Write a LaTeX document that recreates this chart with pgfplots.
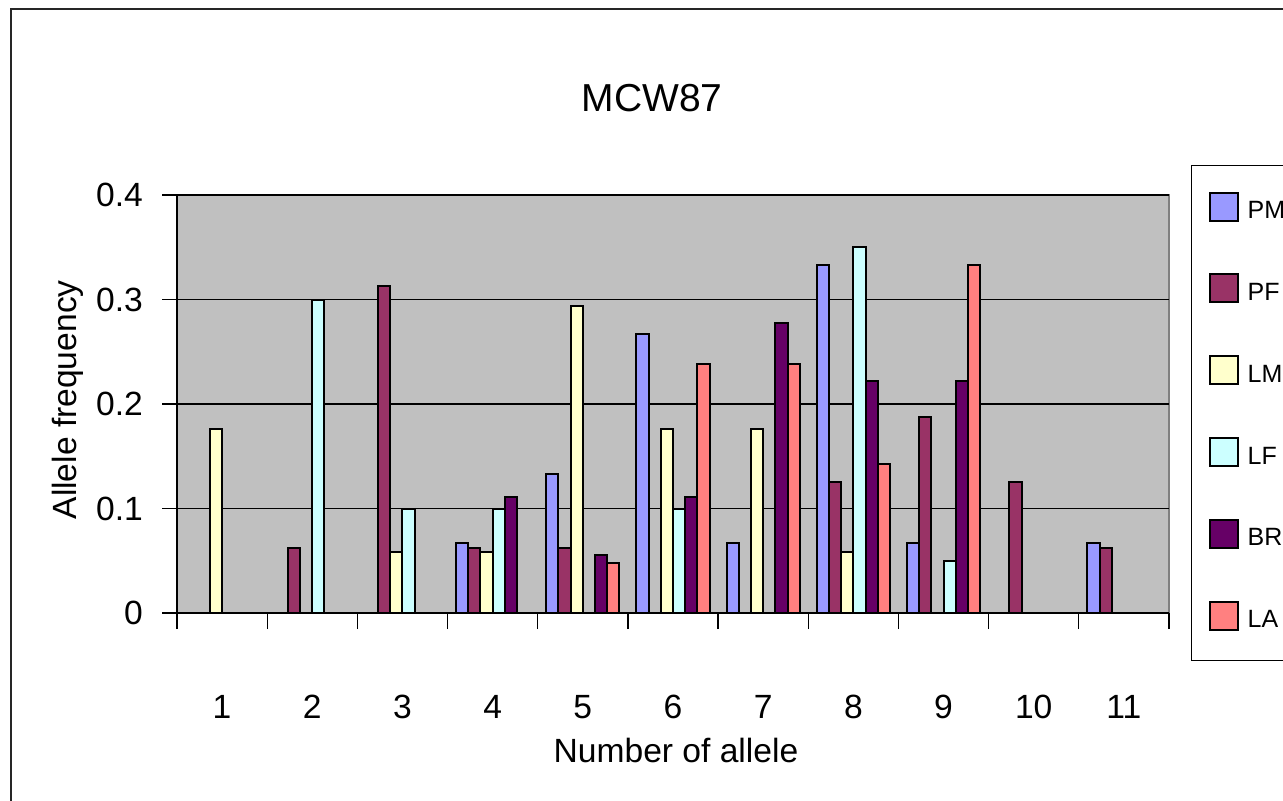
\documentclass[border=0pt]{standalone}
\usepackage{pgfplots}
\pgfplotsset{compat=1.18}
\usepackage{fontspec}
\setmainfont{Liberation Sans}

\definecolor{cPM}{HTML}{9999FF}
\definecolor{cPF}{HTML}{993366}
\definecolor{cLM}{HTML}{FFFFCC}
\definecolor{cLF}{HTML}{CCFFFF}
\definecolor{cBR}{HTML}{660066}
\definecolor{cLA}{HTML}{FF8080}
\definecolor{plotgray}{HTML}{C0C0C0}
\definecolor{bordergray}{HTML}{808080}

\newcommand{\labfont}{\fontsize{16.8}{19}\selectfont}

\begin{document}
\begin{tikzpicture}
\useasboundingbox (0,0) rectangle (641.5pt,-400pt);
\clip (0,0) rectangle (641.5pt,-400pt);
% chart frame
\draw[line width=0.8pt, black!85] (5.5pt,-4.5pt) rectangle (720pt,-460pt);
\begin{axis}[
  at={(88.5pt,-306.5pt)}, anchor=south west,
  width=496pt, height=209pt, scale only axis,
  xmin=0.5, xmax=11.5, ymin=0, ymax=0.4,
  ybar=0pt, bar width=6.1pt,
  axis background/.style={fill=plotgray, draw=bordergray, line width=0.6pt},
  axis lines=left,
  axis line style={-, black, line width=0.6pt},
  tick align=outside,
  major tick length=7.5pt, minor tick length=8pt,
  tick style={black, line width=0.6pt},
  xtick={1,...,11},
  major x tick style={draw=none},
  minor xtick={0.5,1.5,...,11.5},
  ytick={0,0.1,0.2,0.3,0.4},
  ymajorgrids,
  major grid style={black, line width=0.7pt},
  /pgf/number format/assume math mode=true,
  tick label style={font=\labfont},
  yticklabel={\pgfmathprintnumber[fixed]{\tick}},
  yticklabel style={xshift=-6pt},
  xticklabel style={yshift=-30pt},
  title={MCW87},
  title style={font=\fontsize{19.5}{22}\selectfont, at={(axis description cs:0.479,1.203)}, anchor=center},
  xlabel={Number of allele},
  xlabel style={font=\labfont, at={(axis description cs:0.503,-0.328)}, anchor=center},
  ylabel={Allele frequency},
  ylabel style={font=\labfont, at={(axis description cs:-0.11,0.51)}, anchor=center},
  legend style={at={(axis description cs:1.0222,1.0718)}, anchor=north west,
    draw=black, line width=0.6pt, font=\fontsize{12.5}{15}\selectfont,
    row sep=23.9pt, column sep=4.5pt,
    inner xsep=8.5pt, inner ysep=13pt,
    nodes={inner sep=0pt, minimum height=14pt}},
  legend cell align=left,
  legend image code/.code={\draw[#1, line width=1pt] (0pt,-4.5pt) rectangle (14pt,9.5pt);},
  every axis plot/.append style={draw=black, line width=1pt},
]
\addplot[fill=cPM] coordinates {(4,0.0667) (5,0.1333) (6,0.2667) (7,0.0667) (8,0.3333) (9,0.0667) (11,0.0667)};
\addplot[fill=cPF] coordinates {(2,0.0625) (3,0.3125) (4,0.0625) (5,0.0625) (8,0.125) (9,0.1875) (10,0.125) (11,0.0625)};
\addplot[fill=cLM] coordinates {(1,0.1765) (3,0.0588) (4,0.0588) (5,0.2941) (6,0.1765) (7,0.1765) (8,0.0588)};
\addplot[fill=cLF] coordinates {(2,0.3) (3,0.1) (4,0.1) (6,0.1) (8,0.35) (9,0.05)};
\addplot[fill=cBR] coordinates {(4,0.1111) (5,0.0556) (6,0.1111) (7,0.2778) (8,0.2222) (9,0.2222)};
\addplot[fill=cLA] coordinates {(5,0.0476) (6,0.2381) (7,0.2381) (8,0.1429) (9,0.3333)};
\legend{PM,PF,LM,LF,BR,LA}
\end{axis}
\end{tikzpicture}
\end{document}
